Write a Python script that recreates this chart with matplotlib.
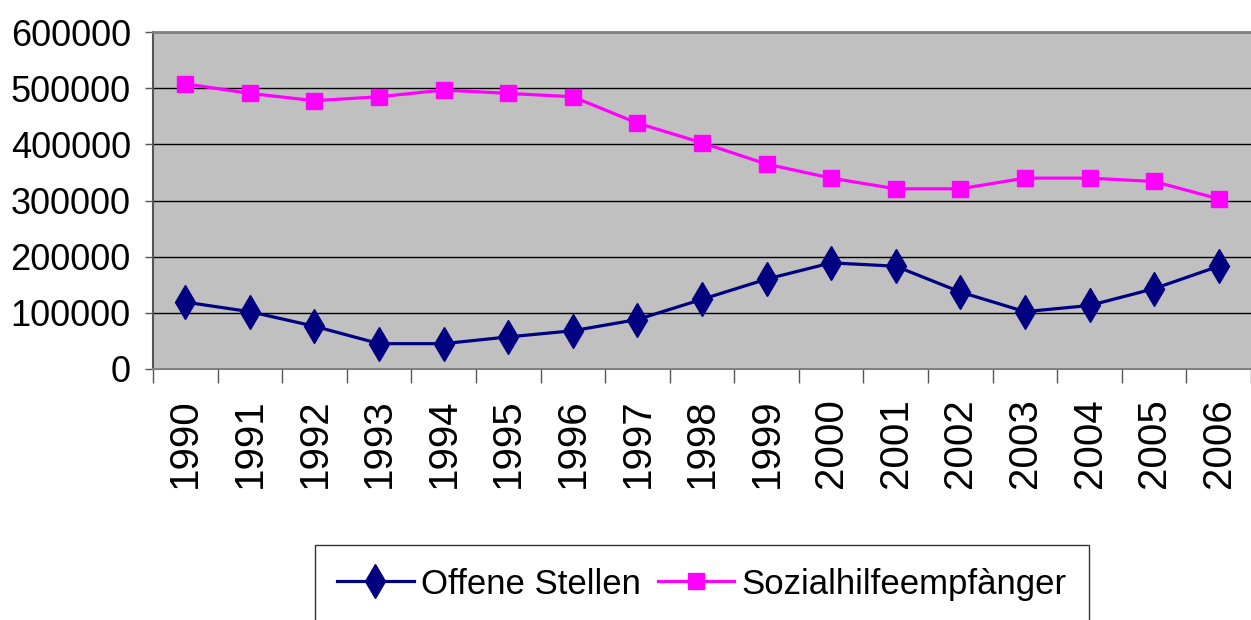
import matplotlib
matplotlib.use("Agg")
import matplotlib.pyplot as plt

years = [str(y) for y in range(1990, 2007)]
offene_stellen = [119000, 102000, 76000, 45000, 45000, 57000, 68000, 88000,
                  124000, 160000, 189000, 183000, 137000, 102000, 113000, 143000, 183000]
sozialhilfe = [508000, 491000, 478000, 485000, 497000, 491000, 485000, 438000,
               403000, 365000, 340000, 321000, 321000, 340000, 340000, 334000, 303000]
y_ticks = [0, 100000, 200000, 300000, 400000, 500000, 600000]

plt.rcParams['font.family'] = ['Liberation Sans', 'DejaVu Sans']

fig = plt.figure(figsize=(12.51, 6.2), dpi=100)
ax = fig.add_axes([0.1223, 0.405, 0.8777, 0.543])
ax.set_facecolor('#C0C0C0')

x = list(range(len(years)))
ax.plot(x, offene_stellen, color='#000080', lw=2.3, marker='d', ms=17,
        mfc='#000080', mec='#000080', label='Offene Stellen', zorder=3)
ax.plot(x, sozialhilfe, color='#FF00FF', lw=2.3, marker='s', ms=11,
        mfc='#FF00FF', mec='#FF00FF', label='Sozialhilfeempfànger', zorder=3)

ax.set_xlim(-0.5, len(years) - 0.5)
ax.set_ylim(0, 600000)
ax.set_yticks(y_ticks)
ax.set_yticklabels([str(v) for v in y_ticks], fontsize=26)
ax.yaxis.grid(True, color='black', lw=1)
ax.set_axisbelow(True)

# category ticks sit between categories, labels centred
ax.set_xticks([i - 0.5 for i in range(len(years) + 1)])
ax.set_xticklabels([])
ax.set_xticks(x, minor=True)
ax.set_xticklabels(years, minor=True, rotation=90, fontsize=29)
ax.tick_params(axis='x', which='minor', length=0, pad=21)
ax.tick_params(axis='x', which='major', length=10, width=1, color='#555555')
ax.tick_params(axis='y', length=6, width=1, color='#555555', pad=10)

ax.spines['right'].set_visible(False)
ax.spines['top'].set_color('#808080')
ax.spines['top'].set_linewidth(2)
ax.spines['left'].set_color('#555555')
ax.spines['left'].set_linewidth(1.5)
ax.spines['bottom'].set_color('#808080')
ax.spines['bottom'].set_linewidth(1.5)

leg = fig.legend(loc='upper center', bbox_to_anchor=(0.561, 0.121), ncol=2,
                 fontsize=25, frameon=True, fancybox=False, edgecolor='black',
                 handlelength=2.2, handletextpad=0.2, columnspacing=0.5,
                 borderpad=0.65, borderaxespad=0)
leg.get_frame().set_linewidth(1)

fig.savefig('out.png', dpi=100)
